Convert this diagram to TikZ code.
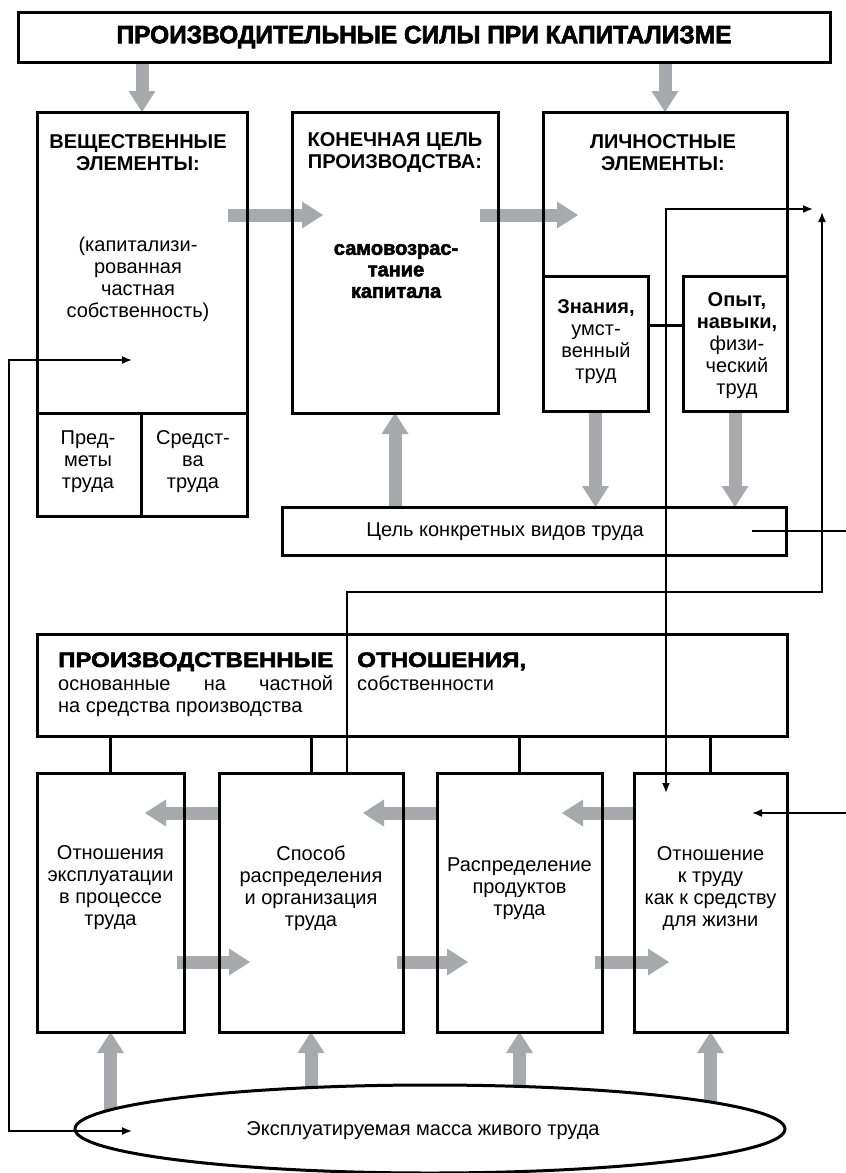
\documentclass[tikz,border=0pt]{standalone}
\usepackage{graphicx}
\usepackage{fontspec}
\setmainfont{Liberation Sans}
\newfontfamily\heavyfont{Liberation Sans}[BoldFeatures={FakeBold=2.5}]
\usetikzlibrary{arrows.meta,shapes.geometric}
\definecolor{garr}{RGB}{167,169,172}
\pgfdeclarelayer{bg}
\pgfsetlayers{bg,main}
\begin{document}
\begin{tikzpicture}[x=1pt,y=-1pt,
  box/.style={draw, line width=3pt, inner sep=0pt, outer sep=0pt},
  garrow/.style={draw=garr, line width=13pt, -{Triangle[width=27pt,length=21pt,line width=0pt]}},
  conn/.style={line width=1.6pt},
  tip/.style={-{Latex[length=10pt,width=8pt]}},
  tips/.style={{Latex[length=10pt,width=8pt]}-{Latex[length=10pt,width=8pt]}},
  txt/.style={align=center, inner sep=0pt, font=\fontsize{20}{22}\selectfont},
  btxt/.style={align=center, inner sep=0pt, font=\fontsize{20}{22}\selectfont\bfseries},
  htxt/.style={align=center, inner sep=0pt, font=\heavyfont\bfseries\fontsize{20}{21.5}\selectfont}
]
\useasboundingbox (0,0) rectangle (846,1173);

% ---- boxes
\node[box, minimum width=812pt, minimum height=50pt, font=\heavyfont\bfseries\fontsize{25}{26}\selectfont] (title) at (424,37) {\resizebox{615pt}{\height}{ПРОИЗВОДИТЕЛЬНЫЕ СИЛЫ ПРИ КАПИТАЛИЗМЕ}};

\node[box, minimum width=210pt, minimum height=301pt] (b1) at (142,262.5) {};
\node[box, minimum width=104pt, minimum height=103pt] (b1a) at (89,464.5) {};
\node[box, minimum width=106pt, minimum height=103pt] (b1b) at (194,464.5) {};
\node[box, minimum width=206pt, minimum height=301pt] (b2) at (395,262.5) {};
\node[inner sep=0pt, outer sep=0pt, minimum width=244pt, minimum height=164pt] (b3) at (665,194) {};
\draw[line width=3pt] (b3.south west) |- (b3.north east) -- (b3.south east);
\node[box, minimum width=105pt, minimum height=135pt] (kn) at (595.5,343.5) {};
\node[box, minimum width=104pt, minimum height=135pt] (op) at (735,343.5) {};
\draw[line width=3pt] ([yshift=18.5pt]kn.east) -- ([yshift=18.5pt]op.west);

\node[box, minimum width=504pt, minimum height=48pt] (goal) at (534,531) {};
\node[box, minimum width=750pt, minimum height=102pt] (pr) at (412,685) {};

\node[box, minimum width=147pt, minimum height=259pt] (B1) at (110.5,902.5) {};
\node[box, minimum width=184pt, minimum height=259pt] (B2) at (311,902.5) {};
\node[box, minimum width=165pt, minimum height=259pt] (B3) at (519.5,902.5) {};
\node[box, minimum width=153pt, minimum height=259pt] (B4) at (710.5,902.5) {};

\foreach \b in {B1,B2,B3,B4} \draw[line width=3pt] (pr.south -| \b.north) -- (\b.north);

% ---- gray arrows (behind)
\begin{pgfonlayer}{bg}
\draw[garrow] (title.south -| b1.north) -- (b1.north);
\draw[garrow] (title.south -| b3.north) -- (b3.north);
\draw[garrow] ([xshift=-19pt,yshift=47.5pt]b1.east) -- ([xshift=31pt,yshift=47.5pt]b2.west);
\draw[garrow] ([xshift=-18pt,yshift=47.5pt]b2.east) -- ([xshift=35pt,yshift=-21pt]b3.west);
\draw[garrow] (goal.north -| b2.south) -- (b2.south);
\draw[garrow] (kn.south) -- (goal.north -| kn.south);
\draw[garrow] (op.south) -- (goal.north -| op.south);
\draw[garrow] ([yshift=89.5pt]B2.west) -- ([xshift=-39pt,yshift=89.5pt]B1.east);
\draw[garrow] ([yshift=89.5pt]B3.west) -- ([xshift=-40pt,yshift=89.5pt]B2.east);
\draw[garrow] ([yshift=89.5pt]B4.west) -- ([xshift=-40pt,yshift=89.5pt]B3.east);
\draw[garrow] ([xshift=-7pt,yshift=-59.5pt]B1.east) -- ([xshift=31pt,yshift=-59.5pt]B2.west);
\draw[garrow] ([xshift=-6pt,yshift=-59.5pt]B2.east) -- ([xshift=31pt,yshift=-59.5pt]B3.west);
\draw[garrow] ([xshift=-7pt,yshift=-59.5pt]B3.east) -- ([xshift=35pt,yshift=-59.5pt]B4.west);
\foreach \b in {B1,B2,B3,B4} \draw[garrow] (\b.south |- 0,1130) -- (\b.south);
\end{pgfonlayer}

% ---- ellipse
\node[draw, ellipse, line width=3pt, fill=white, inner sep=0pt, minimum width=710pt, minimum height=88pt] (ell) at (430,1129) {};
\node[txt] (ellt) at (423,1131) {Эксплуатируемая масса живого труда};

% ---- texts
\node[btxt] (t1) at (138,152.5) {ВЕЩЕСТВЕННЫЕ\\ЭЛЕМЕНТЫ:};
\node[btxt] (t2) at (395,152.5) {КОНЕЧНАЯ ЦЕЛЬ\\ПРОИЗВОДСТВА:};
\node[btxt] (t3) at (663,152.5) {ЛИЧНОСТНЫЕ\\ЭЛЕМЕНТЫ:};
\node[txt] (t1b) at (138,279) {(капитализи-\\рованная\\частная\\собственность)};
\node[htxt] (t2b) at (396,271) {самовозрас-\\тание\\капитала};
\node[txt] (tkn) at (596,342) {\textbf{Знания,}\\умст-\\венный\\труд};
\node[txt] (top) at (737,346) {\textbf{Опыт,}\\\textbf{навыки,}\\физи-\\ческий\\труд};
\node[txt] (tpa) at (88,462) {Пред-\\меты\\труда};
\node[txt] (tpb) at (193,462) {Средст-\\ва\\труда};
\node[txt] (tgoal) at (505,532) {Цель конкретных видов труда};

\node[htxt, anchor=base west, font=\heavyfont\bfseries\fontsize{21}{22}\selectfont] (p1) at (58,667) {\resizebox{275pt}{\height}{ПРОИЗВОДСТВЕННЫЕ}};
\node[txt, anchor=base west] (p2) at (58,690) {\makebox[275pt][l]{основанные\hfill на\hfill частной}};
\node[txt, anchor=base west] (p3) at (58,712) {на средства производства};
\node[htxt, anchor=base west, font=\heavyfont\bfseries\fontsize{21}{22}\selectfont] (p4) at (357,667) {\resizebox{169pt}{\height}{ОТНОШЕНИЯ,}};
\node[txt, anchor=base west] (p5) at (357,690) {собственности};

\node[txt] (tB1) at (110.5,888) {Отношения\\эксплуатации\\в процессе\\труда};
\node[txt] (tB2) at (311,888) {Способ\\распределения\\и организация\\труда};
\node[txt] (tB3) at (519.5,889) {Распределение\\продуктов\\труда};
\node[txt] (tB4) at (710.5,888) {Отношение\\к труду\\как к средству\\для жизни};

% ---- thin connectors
\coordinate (tR) at (813,209);
\coordinate (tD) at (666,793);
\draw[conn, tips] (tR) -| (tD);
\coordinate (tU) at (822,212);
\coordinate (k1) at (822,592);
\draw[conn, tip] ([xshift=36pt]B2.north) |- (k1) -- (tU);
\coordinate (eR1) at (850,531);
\draw[conn] ([xshift=-34pt]goal.east) -- (eR1);
\coordinate (eR2) at (850,813);
\coordinate (t4) at (752,813);
\draw[conn, tip] (eR2) -- (t4);
\coordinate (tL1) at (132,360);
\coordinate (tL2) at (132,1131);
\coordinate (lx) at (9,700);
\draw[conn, tips] (tL1) -| (lx) |- (tL2);
\end{tikzpicture}
\end{document}
